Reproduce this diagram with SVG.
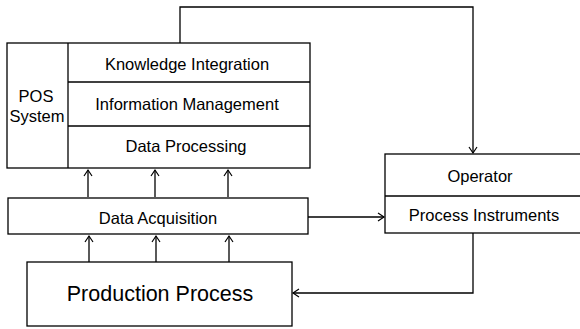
<svg xmlns="http://www.w3.org/2000/svg" width="580" height="329" viewBox="0 0 580 329">
<defs>
<style>
.box{fill:#fff;stroke:#000;stroke-width:1.3}
.t{font-family:"Liberation Sans",Arial,sans-serif;font-size:16.5px;fill:#000;text-anchor:middle}
.big{font-size:21.5px}
.c{fill:none;stroke:#000;stroke-width:1.3}
</style>
<marker id="ah" markerWidth="10" markerHeight="10" refX="8" refY="5" orient="auto" markerUnits="userSpaceOnUse">
<path d="M2,1 L8,5 L2,9" fill="none" stroke="#000" stroke-width="1.2"/>
</marker>
</defs>
<rect width="580" height="329" fill="#fff"/>
<g id="pos-system">
<rect class="box" x="7" y="43" width="303" height="125"/>
<line class="c" x1="68" y1="43" x2="68" y2="168"/>
<line class="c" x1="68" y1="82" x2="310" y2="82"/>
<line class="c" x1="68" y1="126" x2="310" y2="126"/>
<text class="t" x="36" y="102">POS</text>
<text class="t" x="37" y="122">System</text>
<text class="t" x="187" y="70">Knowledge Integration</text>
<text class="t" x="187" y="110">Information Management</text>
<text class="t" x="186" y="152">Data Processing</text>
</g>
<g id="data-acquisition">
<rect class="box" x="8" y="198" width="300" height="36"/>
<text class="t" x="158" y="224">Data Acquisition</text>
</g>
<g id="production-process">
<rect class="box" x="27" y="262" width="265" height="64"/>
<text class="t big" x="160" y="301">Production Process</text>
</g>
<g id="operator">
<rect class="box" x="385" y="154" width="200" height="79"/>
<line class="c" x1="385" y1="196" x2="585" y2="196"/>
<text class="t" x="480" y="182">Operator</text>
<text class="t" x="484" y="221">Process Instruments</text>
</g>
<g id="connectors">
<polyline class="c" points="180,43 180,7 473,7 473,153" marker-end="url(#ah)"/>
<line class="c" x1="308" y1="217" x2="384" y2="217" marker-end="url(#ah)"/>
<polyline class="c" points="473,233 473,293 293,293" marker-end="url(#ah)"/>
<line class="c" x1="88" y1="197" x2="88" y2="170" marker-end="url(#ah)"/>
<line class="c" x1="155" y1="197" x2="155" y2="170" marker-end="url(#ah)"/>
<line class="c" x1="228" y1="197" x2="228" y2="170" marker-end="url(#ah)"/>
<line class="c" x1="89" y1="262" x2="89" y2="236" marker-end="url(#ah)"/>
<line class="c" x1="156" y1="262" x2="156" y2="236" marker-end="url(#ah)"/>
<line class="c" x1="229" y1="262" x2="229" y2="236" marker-end="url(#ah)"/>
</g>
</svg>
